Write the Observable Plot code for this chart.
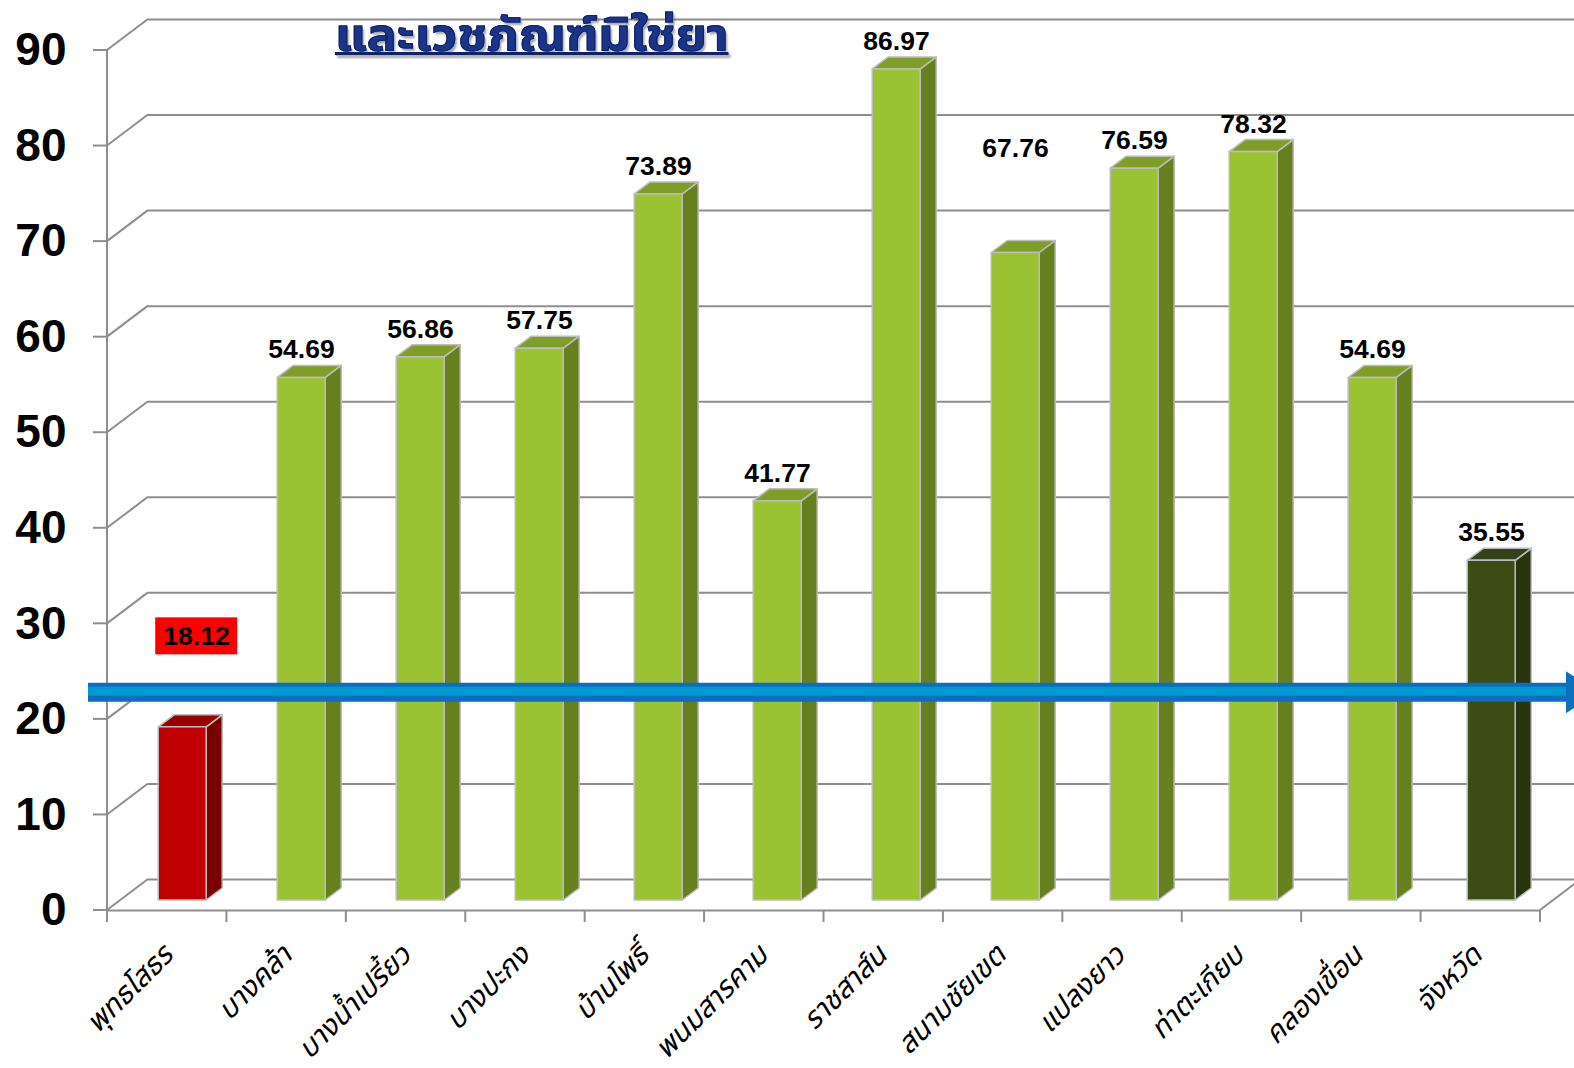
<!DOCTYPE html>
<html><head><meta charset="utf-8">
<script src="https://cdn.jsdelivr.net/npm/d3@7"></script>
<script src="https://cdn.jsdelivr.net/npm/@observablehq/plot@0.6"></script>
<style>
html,body{margin:0;padding:0;background:#fff;}
#wrap{position:relative;width:1574px;height:1068px;overflow:hidden;background:#fff;}
#title{position:absolute;left:335px;top:12px;font-family:"Noto Sans Thai","Noto Serif Thai","Loma","Garuda","Tahoma",sans-serif;font-weight:bold;font-size:45px;line-height:1.1;color:#1c3488;text-decoration:underline;text-decoration-thickness:3px;text-underline-offset:2px;-webkit-text-stroke:1px #0f2366;text-shadow:1px 1px 0 #9fb4e4,2px 3px 2px rgba(0,0,0,0.35);white-space:nowrap;transform:scale(1.11,1);transform-origin:left top;}
</style></head><body>
<div id="wrap"><div id="title">และเวชภัณฑ์มิใช่ยา</div></div>
<script>
const categories = ["พุทธโสธร","บางคล้า","บางน้ำเปรี้ยว","บางปะกง","บ้านโพธิ์","พนมสารคาม","ราชสาส์น","สนามชัยเขต","แปลงยาว","ท่าตะเกียบ","คลองเขื่อน","จังหวัด"];
const values = [18.12,54.69,56.86,57.75,73.89,41.77,86.97,67.76,76.59,78.32,54.69,35.55];
const groups = ["low","district","district","district","district","district","district","district","district","district","district","province"];
const yTicks = [0,10,20,30,40,50,60,70,80,90];
const targetValue = 21.75;

const data = categories.map((c, i) => ({category: c, value: values[i], group: groups[i], i}));

const DX = 41, DY = -31;      // wall depth
const BX = 12.5, BY = -10;    // bar front-face offset inside the box
const SX = 16, SY = -12;      // bar depth
const BAR_W = 48;
const LABEL_GAP = -28;
const GRID = "#8e8e8e";
const palette = {
  low: {front: "#C00000", side: "#7A0000", top: "#980000"},
  district: {front: "#9BC232", side: "#66801F", top: "#7F9E28"},
  province: {front: "#3D4C15", side: "#29330D", top: "#34411A"}
};

function bandInfo(scales, dims) {
  return (dims.width - dims.marginLeft - dims.marginRight) / categories.length;
}

function walls(index, scales, values_, dims) {
  const g = d3.create("svg:g").attr("stroke", GRID).attr("stroke-width", 2).attr("fill", "none");
  const x0 = dims.marginLeft, x1 = dims.width - dims.marginRight;
  const yb = scales.y(0), yt = scales.y(90);
  for (const t of yTicks) {
    const y = scales.y(t);
    g.append("line").attr("x1", x0).attr("y1", y).attr("x2", x0 + DX).attr("y2", y + DY);
    g.append("line").attr("x1", x0 - 14).attr("y1", y).attr("x2", x0).attr("y2", y);
  }
  g.append("line").attr("x1", x0).attr("y1", yt).attr("x2", x0).attr("y2", yb);
  g.append("line").attr("x1", x1).attr("y1", yb).attr("x2", x1 + DX).attr("y2", yb + DY);
  const bw = bandInfo(scales, dims);
  for (let k = 0; k <= categories.length; k++) {
    const x = x0 + k * bw;
    g.append("line").attr("x1", x).attr("y1", yb).attr("x2", x).attr("y2", yb + 12);
  }
  return g.node();
}

function bars3d(index, scales, values_, dims) {
  const g = d3.create("svg:g").attr("stroke", "#bdbdbd").attr("stroke-width", 1.5).attr("stroke-linejoin", "round");
  const bw = bandInfo(scales, dims);
  for (const d of data) {
    const cx = scales.x(d.category) + bw / 2 + BX;
    const y0 = scales.y(0) + BY, yt = scales.y(d.value) + BY;
    const l = cx - BAR_W / 2, r = cx + BAR_W / 2;
    const c = palette[d.group];
    g.append("polygon").attr("fill", c.side)
      .attr("points", [[r, yt], [r + SX, yt + SY], [r + SX, y0 + SY], [r, y0]].join(" "));
    g.append("polygon").attr("fill", c.top)
      .attr("points", [[l, yt], [r, yt], [r + SX, yt + SY], [l + SX, yt + SY]].join(" "));
    g.append("rect").attr("fill", c.front).attr("x", l).attr("y", yt).attr("width", BAR_W).attr("height", y0 - yt);
  }
  return g.node();
}

function arrow(index, scales, values_, dims) {
  const g = d3.create("svg:g");
  const y = scales.y(targetValue) + BY;
  const xs = 88, xe = 1568;
  g.append("line").attr("x1", xs).attr("x2", xe).attr("y1", y).attr("y2", y).attr("stroke", "#0B6FBE").attr("stroke-width", 19);
  g.append("line").attr("x1", xs).attr("x2", xe).attr("y1", y - 1).attr("y2", y - 1).attr("stroke", "#0199D2").attr("stroke-width", 9);
  g.append("polygon").attr("fill", "#0B6FBE").attr("points", [[xe - 2, y - 21], [xe + 30, y], [xe - 2, y + 21]].join(" "));
  return g.node();
}

function labelDy(d) {
  if (d.i === 0) return BY + LABEL_GAP - 63;
  if (d.i === 7) return BY + LABEL_GAP - 76;
  return BY + LABEL_GAP;
}
function labelDx(d) {
  return BX + (d.i === 0 ? 14 : 0);
}

function highlightBox(index, scales, values_, dims) {
  const g = d3.create("svg:g");
  const bw = bandInfo(scales, dims);
  const d = data[0];
  const cx = scales.x(d.category) + bw / 2 + labelDx(d);
  const cy = scales.y(d.value) + labelDy(d);
  g.append("rect").attr("x", cx - 41).attr("y", cy - 18.5).attr("width", 82).attr("height", 37).attr("fill", "#FF0000");
  return g.node();
}

const chart = Plot.plot({
  width: 1574,
  height: 1068,
  marginLeft: 107,
  marginRight: 34,
  marginTop: 50,
  marginBottom: 158,
  style: {background: "transparent", overflow: "visible"},
  x: {type: "band", domain: categories, padding: 0, axis: null},
  y: {domain: [0, 90], axis: null},
  marks: [
    Plot.ruleY(yTicks, {y: d => d, dx: DX, dy: DY, stroke: GRID, strokeWidth: 2}),
    Plot.ruleY([0], {stroke: GRID, strokeWidth: 2}),
    walls,
    bars3d,
    highlightBox,
    arrow,
    Plot.text(yTicks, {y: d => d, frameAnchor: "left", dx: -41, textAnchor: "end", lineAnchor: "middle", text: d => String(d),
      fontFamily: "Liberation Sans, Arial, sans-serif", fontWeight: "bold", fontSize: 46, fill: "#000"}),
    ...data.map(d => Plot.text([d], {x: "category", y: "value", text: v => v.value.toFixed(2), dx: labelDx(d), dy: labelDy(d), lineAnchor: "middle",
      fontFamily: "Liberation Sans, Arial, sans-serif", fontWeight: "bold", fontSize: 26.5, fill: "#000"})),
    Plot.text(categories, {x: d => d, frameAnchor: "bottom", dx: -2, dy: 40, rotate: -45, textAnchor: "end", lineAnchor: "middle",
      fontFamily: "Noto Sans Thai, Noto Serif Thai, Loma, Garuda, Tahoma, sans-serif", fontStyle: "italic", fontSize: 29, fill: "#000"})
  ]
});
document.getElementById("wrap").prepend(chart);
chart.style.position = "absolute";
chart.style.left = "0";
chart.style.top = "0";
</script>
</body></html>
